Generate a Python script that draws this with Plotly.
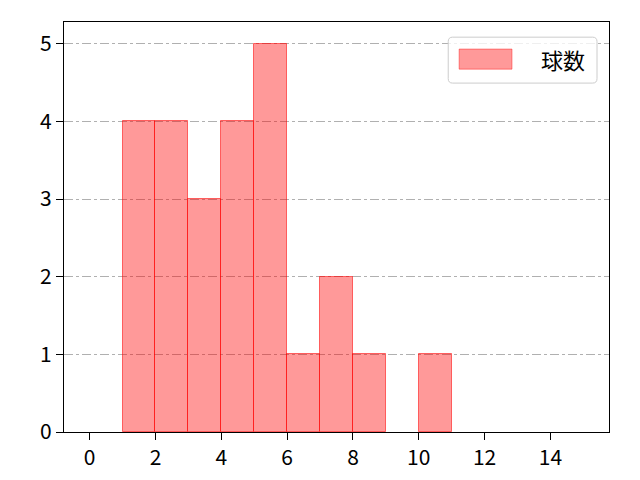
import plotly.graph_objects as go

# histogram bins (left edges) and counts
bin_left = [1, 2, 3, 4, 5, 6, 7, 8, 9, 10]
counts = [4, 4, 3, 4, 5, 1, 2, 1, 0, 1]
x_ticks = [0, 2, 4, 6, 8, 10, 12, 14]
y_ticks = [0, 1, 2, 3, 4, 5]
label = "球数"

font = "Noto Sans CJK JP"

fig = go.Figure()
fig.add_trace(go.Bar(
    x=[b + 0.5 for b in bin_left], y=counts, width=1,
    marker=dict(color="rgba(255,0,0,0.4)",
                line=dict(color="rgba(255,0,0,0.55)", width=[1 if c > 0 else 0 for c in counts])),
    showlegend=False,
))

# hand-made legend like the matplotlib one (rounded box)
x0, x1, y0, y1 = 0.705, 0.978, 0.851, 0.963
rx, ry = 0.008, 0.011
box = (f"M {x0+rx},{y0} L {x1-rx},{y0} Q {x1},{y0} {x1},{y0+ry} L {x1},{y1-ry} "
       f"Q {x1},{y1} {x1-rx},{y1} L {x0+rx},{y1} Q {x0},{y1} {x0},{y1-ry} "
       f"L {x0},{y0+ry} Q {x0},{y0} {x0+rx},{y0} Z")
fig.add_shape(type="path", path=box, xref="paper", yref="paper",
              line=dict(color="#cccccc", width=1), fillcolor="rgba(255,255,255,0.8)", layer="above")
fig.add_shape(type="rect", xref="paper", yref="paper", x0=0.725, x1=0.822, y0=0.885, y1=0.934,
              line=dict(color="rgba(255,0,0,0.4)", width=1), fillcolor="rgba(255,0,0,0.4)", layer="above")
fig.add_annotation(text=label, xref="paper", yref="paper", x=0.916, y=0.909, showarrow=False,
                   xanchor="center", yanchor="middle",
                   font=dict(size=22, color="black", family=font))

fig.update_layout(
    width=640, height=480,
    margin=dict(l=56, r=39, t=14, b=56),
    plot_bgcolor="white", paper_bgcolor="white",
    font=dict(family=font, size=21, color="black"),
    bargap=0,
)
fig.update_xaxes(range=[-0.78, 15.78], tickvals=x_ticks, showgrid=False, zeroline=False,
                 showline=True, linecolor="black", linewidth=1.4, mirror=True,
                 ticks="outside", ticklen=7, tickcolor="black")
fig.update_yaxes(range=[0, 5.28], tickvals=y_ticks, showgrid=True, gridcolor="#b0b0b0",
                 griddash="dashdot", gridwidth=1, zeroline=False,
                 showline=True, linecolor="black", linewidth=1.4, mirror=True,
                 ticks="outside", ticklen=7, tickcolor="black")

fig.write_html("out.html")
